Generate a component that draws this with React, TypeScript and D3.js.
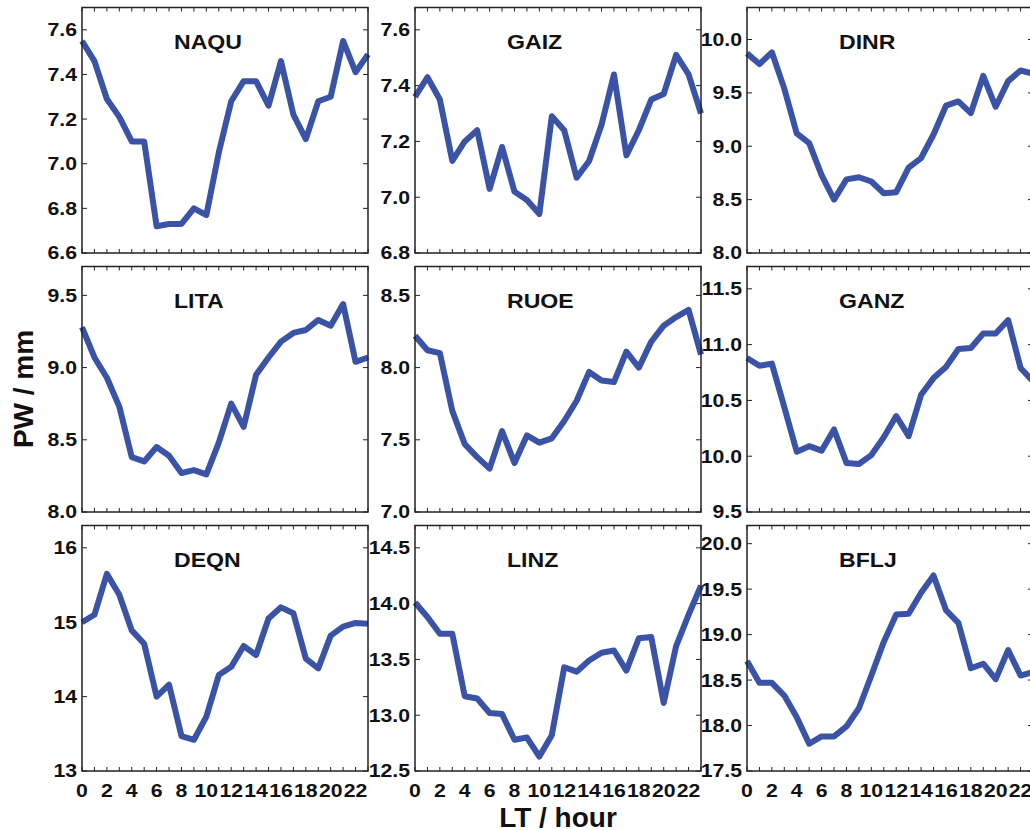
import * as d3 from "d3";
import { useEffect, useRef } from "react";

// ---- data ----
const hours = d3.range(0, 24);
const hourLabels = [0, 2, 4, 6, 8, 10, 12, 14, 16, 18, 20, 22];

const stations = ["NAQU", "GAIZ", "DINR", "LITA", "RUOE", "GANZ", "DEQN", "LINZ", "BFLJ"];

const naqu = [7.55, 7.46, 7.29, 7.21, 7.10, 7.10, 6.72, 6.73, 6.73, 6.80, 6.77, 7.05, 7.28, 7.37, 7.37, 7.26, 7.46, 7.22, 7.11, 7.28, 7.30, 7.55, 7.41, 7.49];
const gaiz = [7.36, 7.43, 7.35, 7.13, 7.20, 7.24, 7.03, 7.18, 7.02, 6.99, 6.94, 7.29, 7.24, 7.07, 7.13, 7.26, 7.44, 7.15, 7.24, 7.35, 7.37, 7.51, 7.44, 7.30];
const dinr = [9.87, 9.77, 9.88, 9.54, 9.12, 9.03, 8.73, 8.50, 8.69, 8.71, 8.67, 8.56, 8.57, 8.80, 8.89, 9.11, 9.38, 9.42, 9.31, 9.66, 9.37, 9.61, 9.71, 9.68];
const lita = [9.28, 9.07, 8.93, 8.73, 8.38, 8.35, 8.45, 8.39, 8.27, 8.29, 8.26, 8.48, 8.75, 8.59, 8.95, 9.07, 9.18, 9.24, 9.26, 9.33, 9.29, 9.44, 9.04, 9.07];
const ruoe = [8.22, 8.12, 8.10, 7.70, 7.47, 7.38, 7.30, 7.56, 7.34, 7.53, 7.48, 7.51, 7.63, 7.77, 7.97, 7.91, 7.90, 8.11, 8.00, 8.18, 8.29, 8.35, 8.40, 8.09];
const ganz = [10.88, 10.81, 10.83, 10.44, 10.04, 10.09, 10.05, 10.24, 9.94, 9.93, 10.01, 10.17, 10.36, 10.18, 10.55, 10.70, 10.80, 10.96, 10.97, 11.10, 11.10, 11.22, 10.79, 10.67];
const deqn = [15.00, 15.10, 15.65, 15.37, 14.89, 14.71, 14.00, 14.16, 13.47, 13.42, 13.73, 14.29, 14.40, 14.68, 14.56, 15.05, 15.20, 15.12, 14.51, 14.38, 14.82, 14.94, 14.99, 14.98];
const linz = [14.01, 13.88, 13.73, 13.73, 13.17, 13.15, 13.02, 13.01, 12.78, 12.80, 12.63, 12.82, 13.43, 13.39, 13.49, 13.56, 13.58, 13.40, 13.69, 13.70, 13.11, 13.62, 13.90, 14.16];
const bflj = [18.71, 18.47, 18.47, 18.33, 18.09, 17.80, 17.88, 17.88, 17.99, 18.19, 18.55, 18.92, 19.22, 19.23, 19.46, 19.65, 19.27, 19.13, 18.63, 18.68, 18.51, 18.83, 18.55, 18.59];

const series = [naqu, gaiz, dinr, lita, ruoe, ganz, deqn, linz, bflj];

// y extents and tick values per panel
const yDomains = [
  [6.6, 7.7], [6.8, 7.68], [8.0, 10.3],
  [8.0, 9.7], [7.0, 8.7], [9.5, 11.7],
  [13, 16.3], [12.5, 14.7], [17.5, 20.2],
];
const yTicks = [
  [6.6, 6.8, 7.0, 7.2, 7.4, 7.6], [6.8, 7.0, 7.2, 7.4, 7.6], [8.0, 8.5, 9.0, 9.5, 10.0],
  [8.0, 8.5, 9.0, 9.5], [7.0, 7.5, 8.0, 8.5], [9.5, 10.0, 10.5, 11.0, 11.5],
  [13, 14, 15, 16], [12.5, 13.0, 13.5, 14.0, 14.5], [17.5, 18.0, 18.5, 19.0, 19.5, 20.0],
];
const yFormats = [".1f", ".1f", ".1f", ".1f", ".1f", ".1f", "d", ".1f", ".1f"];

export default function App() {
  const ref = useRef<SVGSVGElement>(null);

  useEffect(() => {
    const width = 1030;
    const height = 830;
    const colLeft = [82, 415, 747];
    const rowTop = [7.5, 266.5, 525.5];
    const pw = 286;
    const ph = 245.5;
    const lineColor = "#3a53a6";
    const font = "'Liberation Sans', Arial, sans-serif";

    const svg = d3.select(ref.current);
    svg.selectAll("*").remove();
    svg.attr("width", width).attr("height", height).attr("viewBox", `0 0 ${width} ${height}`);

    svg.append("rect").attr("width", width).attr("height", height).attr("fill", "#fff");

    stations.forEach((name, i) => {
      const col = i % 3;
      const row = Math.floor(i / 3);
      const g = svg.append("g").attr("transform", `translate(${colLeft[col]},${rowTop[row]})`);

      const x = d3.scaleLinear().domain([0, 23]).range([0, pw]);
      const y = d3.scaleLinear().domain(yDomains[i]).range([ph, 0]);

      // ticks (inward, all four sides)
      const tk = g.append("g").attr("stroke", "#222").attr("stroke-width", 1);
      tk.selectAll("line.yl").data(yTicks[i]).join("line")
        .attr("x1", 0).attr("x2", 5).attr("y1", d => y(d)).attr("y2", d => y(d));
      tk.selectAll("line.yr").data(yTicks[i]).join("line").attr("class", "yr")
        .attr("x1", pw - 5).attr("x2", pw).attr("y1", d => y(d)).attr("y2", d => y(d));
      tk.selectAll("line.xb").data(hours).join("line").attr("class", "xb")
        .attr("x1", d => x(d)).attr("x2", d => x(d)).attr("y1", ph).attr("y2", ph - 4);
      tk.selectAll("line.xt").data(hours).join("line").attr("class", "xt")
        .attr("x1", d => x(d)).attr("x2", d => x(d)).attr("y1", 0).attr("y2", 4);

      // y tick labels
      const fmt = d3.format(yFormats[i]);
      g.append("g").selectAll("text").data(yTicks[i]).join("text")
        .attr("transform", d => `translate(-5,${y(d)}) scale(1.18,1)`)
        .attr("text-anchor", "end")
        .attr("dy", "0.36em")
        .attr("font-family", font)
        .attr("font-weight", 700)
        .attr("font-size", 18)
        .attr("fill", "#111")
        .text(d => fmt(d));

      // x tick labels, bottom row only
      if (row === 2) {
        g.append("g").selectAll("text").data(hourLabels).join("text")
          .attr("transform", d => `translate(${x(d)},${ph + 26}) scale(1.18,1)`)
          .attr("text-anchor", "middle")
          .attr("font-family", font)
          .attr("font-weight", 700)
          .attr("font-size", 18)
          .attr("fill", "#111")
          .text(d => d);
      }

      // line
      const line = d3.line<number>().x((_, j) => x(hours[j])).y(d => y(d));
      g.append("path")
        .datum(series[i])
        .attr("d", line)
        .attr("fill", "none")
        .attr("stroke", lineColor)
        .attr("stroke-width", 6)
        .attr("stroke-linejoin", "round");

      // frame
      g.append("rect")
        .attr("width", pw).attr("height", ph)
        .attr("fill", "none")
        .attr("stroke", "#222")
        .attr("stroke-width", 1.5);

      // station name
      g.append("text")
        .attr("transform", `translate(92,41) scale(1.1,1)`)
        .attr("font-family", font)
        .attr("font-weight", 700)
        .attr("font-size", 21)
        .attr("fill", "#111")
        .text(name);
    });

    // axis titles
    svg.append("text")
      .attr("transform", `translate(33,389) rotate(-90)`)
      .attr("text-anchor", "middle")
      .attr("font-family", font)
      .attr("font-weight", 700)
      .attr("font-size", 28)
      .attr("fill", "#111")
      .text("PW / mm");

    svg.append("text")
      .attr("x", colLeft[1] + pw / 2)
      .attr("y", 827)
      .attr("text-anchor", "middle")
      .attr("font-family", font)
      .attr("font-weight", 700)
      .attr("font-size", 28)
      .attr("fill", "#111")
      .text("LT / hour");
  }, []);

  return (
    <svg
      ref={ref}
      style={{ position: "absolute", left: 0, top: 0, display: "block" }}
    />
  );
}
